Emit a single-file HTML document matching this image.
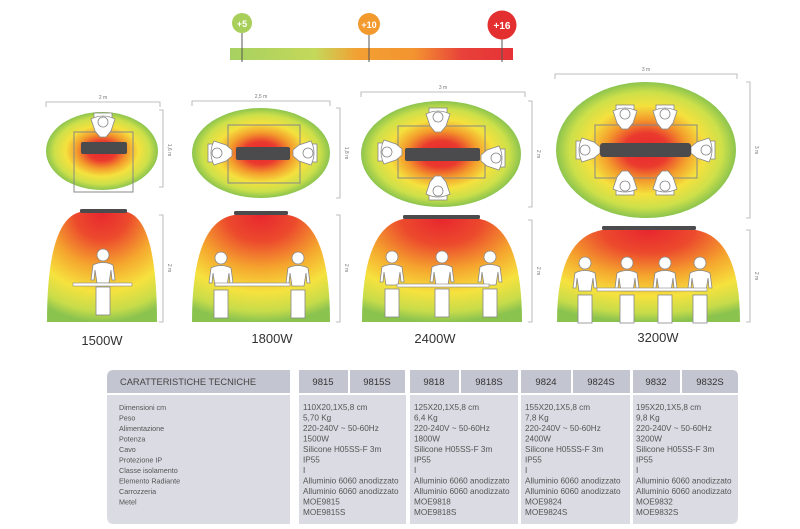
<!DOCTYPE html>
<html><head><meta charset="utf-8"><style>
html,body{margin:0;padding:0;background:#fff;width:800px;height:529px;overflow:hidden}
svg{display:block}
text{font-family:"Liberation Sans",sans-serif}
</style></head><body>
<svg width="800" height="529" viewBox="0 0 800 529" xmlns="http://www.w3.org/2000/svg">
<defs>
<linearGradient id="bar" x1="0" x2="1">
<stop offset="0" stop-color="#a6d160"/><stop offset="0.3" stop-color="#c4d85a"/><stop offset="0.45" stop-color="#f3a033"/><stop offset="0.65" stop-color="#f39430"/><stop offset="0.82" stop-color="#e8413a"/><stop offset="1" stop-color="#e63236"/>
</linearGradient>
<radialGradient id="ell" cx="0.5" cy="0.5" r="0.5">
<stop offset="0" stop-color="#e8262f"/><stop offset="0.25" stop-color="#ea3a2e"/><stop offset="0.45" stop-color="#f39b2c"/><stop offset="0.65" stop-color="#f5e13e"/><stop offset="0.85" stop-color="#cde04a"/><stop offset="1" stop-color="#8cc44e"/>
</radialGradient>
<radialGradient id="dome" cx="0.5" cy="0" r="1" fx="0.5" fy="0">
<stop offset="0" stop-color="#e8262f"/><stop offset="0.25" stop-color="#ec4a2d"/><stop offset="0.5" stop-color="#f5a62e"/><stop offset="0.72" stop-color="#f6e23e"/><stop offset="0.9" stop-color="#c7dc4a"/><stop offset="1" stop-color="#8bc34f"/>
</radialGradient>
<g id="fp"><circle cx="0" cy="-30" r="6" fill="#fff" stroke="#888" stroke-width="0.8"/><path d="M-12,-5 L-10,-20 Q0,-25 10,-20 L12,-5 L9,-5 L8,-15 L6,-2 L-6,-2 L-8,-15 L-9,-5Z" fill="#fff" stroke="#888" stroke-width="0.8"/><rect x="-7" y="2" width="14" height="28" fill="#fff" stroke="#888" stroke-width="0.8"/></g>
<g id="tp"><rect x="-9" y="-12" width="18" height="6" fill="#fff" stroke="#888" stroke-width="0.8"/><path d="M-12,-6 Q0,-12 12,-6 L8,6 L3,12 L-3,12 L-8,6Z" fill="#fff" stroke="#888" stroke-width="0.8"/><circle cx="0" cy="-3" r="5" fill="#fff" stroke="#888" stroke-width="0.8"/></g>
</defs>

<rect x="230" y="48" width="283" height="12" fill="url(#bar)"/>
<line x1="242" y1="30" x2="242" y2="62" stroke="#555" stroke-width="1"/>
<line x1="369" y1="34" x2="369" y2="62" stroke="#555" stroke-width="1"/>
<line x1="502" y1="36" x2="502" y2="62" stroke="#555" stroke-width="1"/>
<circle cx="242" cy="23" r="10" fill="#a8cf5a"/>
<circle cx="369" cy="24" r="11" fill="#f29a2e"/>
<circle cx="502" cy="25" r="14.5" fill="#e42f30"/>
<text x="242" y="27" font-size="9" font-weight="bold" fill="#fff" text-anchor="middle">+5</text>
<text x="369" y="28" font-size="9" font-weight="bold" fill="#fff" text-anchor="middle">+10</text>
<text x="502" y="29" font-size="10" font-weight="bold" fill="#fff" text-anchor="middle">+16</text>

<g stroke="#aaa" stroke-width="0.8" fill="none">
<path d="M46,107 V102 H160 V107"/><path d="M159,110 H163 V187 H159"/><path d="M159,215 H163 V322 H159"/>
<path d="M192,106 V101 H330 V106"/><path d="M336,108 H340 V198 H336"/><path d="M336,215 H340 V322 H336"/>
<path d="M361,97 V92 H525 V97"/><path d="M528,101 H532 V207 H528"/><path d="M528,220 H532 V322 H528"/>
<path d="M555,79 V74 H737 V79"/><path d="M746,82 H750 V218 H746"/><path d="M746,230 H750 V322 H746"/>
</g>
<g font-size="5" fill="#777" text-anchor="middle">
<text x="103" y="99">2 m</text><text x="261" y="98">2,5 m</text><text x="443" y="89">3 m</text><text x="646" y="71">3 m</text>
<text x="168" y="150" transform="rotate(90 168 150)">1,6 m</text>
<text x="345" y="153" transform="rotate(90 345 153)">1,8 m</text>
<text x="537" y="154" transform="rotate(90 537 154)">2 m</text>
<text x="755" y="150" transform="rotate(90 755 150)">3 m</text>
<text x="168" y="268" transform="rotate(90 168 268)">2 m</text>
<text x="345" y="268" transform="rotate(90 345 268)">2 m</text>
<text x="537" y="271" transform="rotate(90 537 271)">2 m</text>
<text x="755" y="276" transform="rotate(90 755 276)">2 m</text>
</g>

<ellipse cx="102" cy="151" rx="56" ry="39" fill="url(#ell)"/>
<rect x="74" y="132" width="59" height="60" fill="none" stroke="#888" stroke-width="1"/>
<use href="#tp" x="103" y="125"/>
<rect x="81" y="142" width="46" height="12" rx="2" fill="#4b4b4d"/>
<path d="M47,322 Q47,220 80,212 L127,212 Q157,220 157,322Z" fill="url(#dome)"/>
<rect x="80" y="209" width="47" height="4" rx="1.5" fill="#4b4b4d"/>
<use href="#fp" x="103" y="285"/>
<rect x="73" y="283" width="59" height="3" fill="#fff" stroke="#888" stroke-width="0.6"/>
<text x="102" y="345" font-size="13" fill="#333" text-anchor="middle">1500W</text>

<ellipse cx="261" cy="153" rx="69" ry="45" fill="url(#ell)"/>
<rect x="228" y="125" width="72" height="58" fill="none" stroke="#888" stroke-width="1"/>
<use href="#tp" x="220" y="153" transform="rotate(-90 220 153)"/>
<use href="#tp" x="305" y="153" transform="rotate(90 305 153)"/>
<rect x="236" y="147" width="54" height="13" rx="2" fill="#4b4b4d"/>
<path d="M192,322 Q192,222 234,215 L288,215 Q330,222 330,322Z" fill="url(#dome)"/>
<rect x="234" y="211" width="54" height="4" rx="1.5" fill="#4b4b4d"/>
<use href="#fp" x="221" y="288"/><use href="#fp" x="298" y="288"/>
<rect x="215" y="283" width="75" height="3" fill="#fff" stroke="#888" stroke-width="0.6"/>
<text x="272" y="343" font-size="13" fill="#333" text-anchor="middle">1800W</text>

<ellipse cx="441" cy="154" rx="80" ry="53" fill="url(#ell)"/>
<rect x="398" y="126" width="87" height="52" fill="none" stroke="#888" stroke-width="1"/>
<use href="#tp" x="438" y="120"/>
<use href="#tp" x="438" y="188" transform="rotate(180 438 188)"/>
<use href="#tp" x="390" y="152" transform="rotate(-90 390 152)"/>
<use href="#tp" x="493" y="158" transform="rotate(90 493 158)"/>
<rect x="405" y="148" width="75" height="13" rx="2" fill="#4b4b4d"/>
<path d="M362,322 Q362,228 403,219 L480,219 Q522,228 522,322Z" fill="url(#dome)"/>
<rect x="403" y="215" width="77" height="4" rx="1.5" fill="#4b4b4d"/>
<use href="#fp" x="392" y="287"/><use href="#fp" x="442" y="287"/><use href="#fp" x="490" y="287"/>
<rect x="397" y="284" width="92" height="3" fill="#fff" stroke="#888" stroke-width="0.6"/>
<text x="435" y="343" font-size="13" fill="#333" text-anchor="middle">2400W</text>

<ellipse cx="646" cy="150" rx="90" ry="68" fill="url(#ell)"/>
<rect x="595" y="125" width="102" height="53" fill="none" stroke="#888" stroke-width="1"/>
<use href="#tp" x="625" y="117"/><use href="#tp" x="665" y="117"/>
<use href="#tp" x="625" y="183" transform="rotate(180 625 183)"/><use href="#tp" x="665" y="183" transform="rotate(180 665 183)"/>
<use href="#tp" x="588" y="150" transform="rotate(-90 588 150)"/>
<use href="#tp" x="703" y="150" transform="rotate(90 703 150)"/>
<rect x="600" y="143" width="91" height="14" rx="3" fill="#4b4b4d"/>
<path d="M557,322 Q557,238 602,230 L696,230 Q740,238 740,322Z" fill="url(#dome)"/>
<rect x="602" y="226" width="94" height="4" rx="1.5" fill="#4b4b4d"/>
<use href="#fp" x="585" y="293"/><use href="#fp" x="627" y="293"/><use href="#fp" x="665" y="293"/><use href="#fp" x="700" y="293"/>
<rect x="597" y="288" width="110" height="3" fill="#fff" stroke="#888" stroke-width="0.6"/>
<text x="658" y="342" font-size="13" fill="#333" text-anchor="middle">3200W</text>

<path d="M114,370 H290 V393 H107 V377 Q107,370 114,370Z" fill="#c3c5d1"/>
<rect x="299" y="370" width="49" height="23" fill="#c3c5d1"/><rect x="350" y="370" width="55" height="23" fill="#c3c5d1"/>
<rect x="410" y="370" width="49" height="23" fill="#c3c5d1"/><rect x="461" y="370" width="57" height="23" fill="#c3c5d1"/>
<rect x="521" y="370" width="50" height="23" fill="#c3c5d1"/><rect x="573" y="370" width="57" height="23" fill="#c3c5d1"/>
<rect x="633" y="370" width="47" height="23" fill="#c3c5d1"/><path d="M682,370 H732 Q738,370 738,376 V393 H682Z" fill="#c3c5d1"/>
<path d="M107,395 H290 V524 H114 Q107,524 107,517Z" fill="#dadbe3"/>
<rect x="299" y="395" width="107" height="129" fill="#dadbe3"/>
<rect x="410" y="395" width="108" height="129" fill="#dadbe3"/>
<rect x="521" y="395" width="109" height="129" fill="#dadbe3"/>
<path d="M633,395 H738 V517 Q738,524 731,524 H633Z" fill="#dadbe3"/>
<text x="120" y="385" font-size="9.3" fill="#444">CARATTERISTICHE TECNICHE</text>
<g font-size="9.5" fill="#333" text-anchor="middle">
<text x="323" y="385">9815</text><text x="377" y="385">9815S</text><text x="434" y="385">9818</text><text x="489" y="385">9818S</text>
<text x="546" y="385">9824</text><text x="601" y="385">9824S</text><text x="656" y="385">9832</text><text x="710" y="385">9832S</text>
</g>
<g font-size="7.2" fill="#555">
<text x="119" y="410">Dimensioni cm</text><text x="119" y="420.5">Peso</text><text x="119" y="431">Alimentazione</text><text x="119" y="441.5">Potenza</text><text x="119" y="452">Cavo</text><text x="119" y="462.5">Protezione IP</text><text x="119" y="473">Classe isolamento</text><text x="119" y="483.5">Elemento Radiante</text><text x="119" y="494">Carrozzeria</text><text x="119" y="504.5">Metel</text>
</g>
<g font-size="8.2" fill="#555">
<g transform="translate(303,0)"><text y="410">110X20,1X5,8 cm</text><text y="420.5">5,70 Kg</text><text y="431">220-240V ~ 50-60Hz</text><text y="441.5">1500W</text><text y="452">Silicone H05SS-F 3m</text><text y="462.5">IP55</text><text y="473">I</text><text y="483.5">Alluminio 6060 anodizzato</text><text y="494">Alluminio 6060 anodizzato</text><text y="504.5">MOE9815</text><text y="515">MOE9815S</text></g>
<g transform="translate(414,0)"><text y="410">125X20,1X5,8 cm</text><text y="420.5">6,4 Kg</text><text y="431">220-240V ~ 50-60Hz</text><text y="441.5">1800W</text><text y="452">Silicone H05SS-F 3m</text><text y="462.5">IP55</text><text y="473">I</text><text y="483.5">Alluminio 6060 anodizzato</text><text y="494">Alluminio 6060 anodizzato</text><text y="504.5">MOE9818</text><text y="515">MOE9818S</text></g>
<g transform="translate(525,0)"><text y="410">155X20,1X5,8 cm</text><text y="420.5">7,8 Kg</text><text y="431">220-240V ~ 50-60Hz</text><text y="441.5">2400W</text><text y="452">Silicone H05SS-F 3m</text><text y="462.5">IP55</text><text y="473">I</text><text y="483.5">Alluminio 6060 anodizzato</text><text y="494">Alluminio 6060 anodizzato</text><text y="504.5">MOE9824</text><text y="515">MOE9824S</text></g>
<g transform="translate(636,0)"><text y="410">195X20,1X5,8 cm</text><text y="420.5">9,8 Kg</text><text y="431">220-240V ~ 50-60Hz</text><text y="441.5">3200W</text><text y="452">Silicone H05SS-F 3m</text><text y="462.5">IP55</text><text y="473">I</text><text y="483.5">Alluminio 6060 anodizzato</text><text y="494">Alluminio 6060 anodizzato</text><text y="504.5">MOE9832</text><text y="515">MOE9832S</text></g>
</g>
</svg>
</body></html>
